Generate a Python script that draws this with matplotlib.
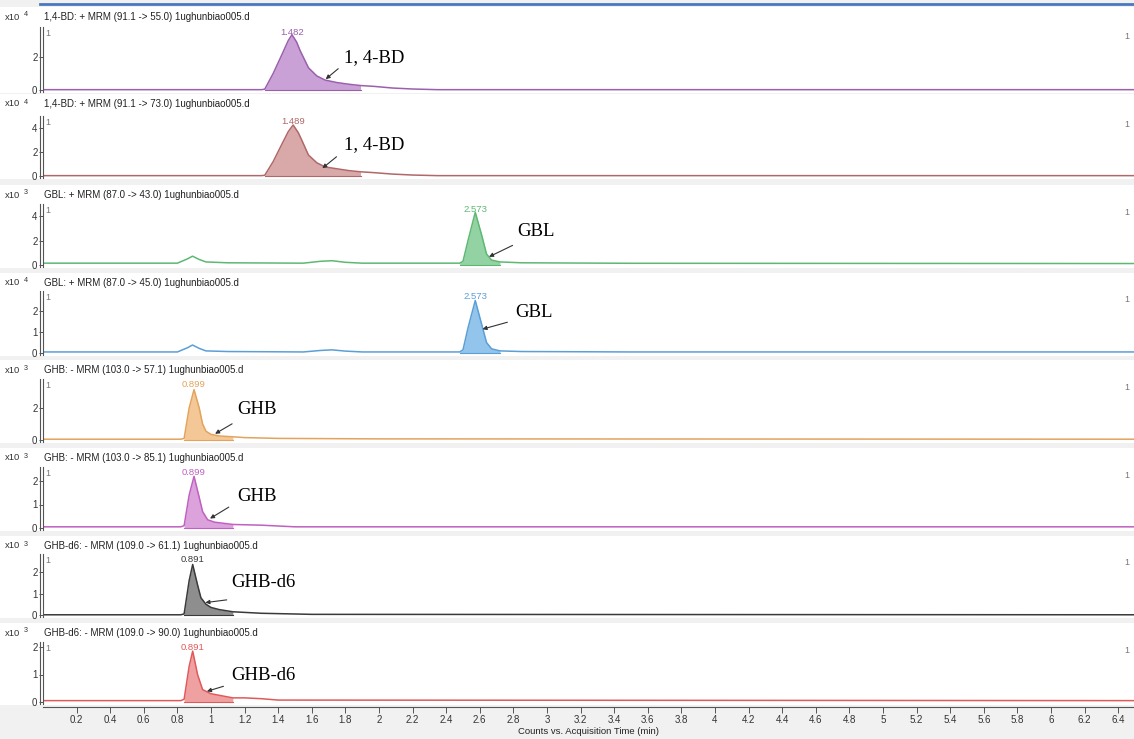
import matplotlib
matplotlib.use('Agg')
import matplotlib.pyplot as plt
import numpy as np

# ---- data (time in min, intensity in panel units) ----
titles = [
    '1,4-BD: + MRM (91.1 -> 55.0) 1ughunbiao005.d',
    '1,4-BD: + MRM (91.1 -> 73.0) 1ughunbiao005.d',
    'GBL: + MRM (87.0 -> 43.0) 1ughunbiao005.d',
    'GBL: + MRM (87.0 -> 45.0) 1ughunbiao005.d',
    'GHB: - MRM (103.0 -> 57.1) 1ughunbiao005.d',
    'GHB: - MRM (103.0 -> 85.1) 1ughunbiao005.d',
    'GHB-d6: - MRM (109.0 -> 61.1) 1ughunbiao005.d',
    'GHB-d6: - MRM (109.0 -> 90.0) 1ughunbiao005.d',
]
exponents = ['4', '4', '3', '4', '3', '3', '3', '3']
peak_rt = ['1.482', '1.489', '2.573', '2.573', '0.899', '0.899', '0.891', '0.891']
compounds = ['1, 4-BD', '1, 4-BD', 'GBL', 'GBL', 'GHB', 'GHB', 'GHB-d6', 'GHB-d6']

t_bd1 = [0, 1.30, 1.32, 1.37, 1.42, 1.46, 1.482, 1.51, 1.53, 1.58, 1.63, 1.68, 1.75, 1.82, 1.89, 1.97, 2.08, 2.2, 2.35, 6.5]
y_bd1 = [0.02, 0.02, 0.05, 1.0, 2.1, 3.0, 3.35, 2.9, 2.4, 1.35, 0.85, 0.6, 0.45, 0.35, 0.27, 0.22, 0.12, 0.06, 0.02, 0.02]
t_bd2 = [0, 1.30, 1.32, 1.37, 1.42, 1.46, 1.489, 1.52, 1.54, 1.58, 1.63, 1.68, 1.75, 1.82, 1.89, 1.97, 2.08, 2.2, 2.35, 6.5]
y_bd2 = [0.03, 0.03, 0.06, 1.2, 2.6, 3.7, 4.25, 3.6, 3.0, 1.75, 1.1, 0.75, 0.6, 0.45, 0.35, 0.28, 0.16, 0.08, 0.03, 0.03]
t_gbl1 = [0, 0.80, 0.86, 0.89, 0.93, 0.97, 1.10, 1.55, 1.65, 1.72, 1.80, 1.90, 2.48, 2.50, 2.53, 2.573, 2.61, 2.64, 2.67, 2.72, 2.85, 3.5, 6.5]
y_gbl1 = [0.15, 0.15, 0.5, 0.72, 0.45, 0.25, 0.18, 0.15, 0.3, 0.35, 0.22, 0.15, 0.15, 0.3, 2.0, 4.3, 2.5, 0.9, 0.4, 0.25, 0.18, 0.14, 0.12]
t_gbl2 = [0, 0.80, 0.86, 0.89, 0.93, 0.97, 1.10, 1.55, 1.65, 1.72, 1.80, 1.90, 2.48, 2.50, 2.53, 2.573, 2.61, 2.64, 2.67, 2.72, 2.85, 3.5, 6.5]
y_gbl2 = [0.05, 0.05, 0.25, 0.38, 0.22, 0.1, 0.07, 0.05, 0.12, 0.15, 0.09, 0.05, 0.05, 0.15, 1.2, 2.5, 1.4, 0.5, 0.2, 0.1, 0.07, 0.05, 0.05]
t_ghb1 = [0, 0.82, 0.84, 0.87, 0.899, 0.93, 0.95, 0.97, 1.00, 1.05, 1.13, 1.2, 1.4, 2.0, 6.5]
y_ghb1 = [0.05, 0.05, 0.1, 2.0, 3.15, 2.0, 1.0, 0.55, 0.35, 0.25, 0.2, 0.15, 0.1, 0.07, 0.05]
t_ghb2 = [0, 0.82, 0.84, 0.87, 0.899, 0.93, 0.95, 0.98, 1.02, 1.13, 1.3, 1.5, 6.5]
y_ghb2 = [0.05, 0.05, 0.1, 1.4, 2.2, 1.3, 0.7, 0.35, 0.25, 0.15, 0.12, 0.05, 0.05]
t_d61 = [0, 0.82, 0.84, 0.87, 0.891, 0.92, 0.94, 0.97, 1.00, 1.05, 1.13, 1.3, 1.6, 6.5]
y_d61 = [0.01, 0.01, 0.05, 1.6, 2.35, 1.4, 0.8, 0.5, 0.35, 0.25, 0.15, 0.08, 0.03, 0.01]
t_d62 = [0, 0.82, 0.84, 0.87, 0.891, 0.92, 0.95, 1.00, 1.13, 1.2, 1.3, 1.4, 6.5]
y_d62 = [0.05, 0.05, 0.1, 1.3, 1.85, 1.0, 0.45, 0.3, 0.15, 0.15, 0.12, 0.07, 0.05]

traces_t = [t_bd1, t_bd2, t_gbl1, t_gbl2, t_ghb1, t_ghb2, t_d61, t_d62]
traces_y = [y_bd1, y_bd2, y_gbl1, y_gbl2, y_ghb1, y_ghb2, y_d61, y_d62]
fill_range = [(1.32, 1.89), (1.32, 1.89), (2.48, 2.72), (2.48, 2.72),
              (0.84, 1.13), (0.84, 1.13), (0.84, 1.13), (0.84, 1.13)]
y_ticks = [[0, 2], [0, 2, 4], [0, 2, 4], [0, 1, 2], [0, 2], [0, 1, 2], [0, 1, 2], [0, 1, 2]]

# arrow head, arrow tail, text position (data units)
arrow_head = [(1.67, 0.55), (1.65, 0.5), (2.64, 0.57), (2.60, 1.1), (1.01, 0.3), (0.98, 0.34), (0.95, 0.56), (0.96, 0.36)]
arrow_tail = [(1.77, 1.4), (1.76, 1.75), (2.81, 1.7), (2.78, 1.5), (1.14, 1.1), (1.12, 0.95), (1.11, 0.72), (1.09, 0.6)]
text_pos = [(1.79, 1.94), (1.79, 2.6), (2.82, 2.7), (2.81, 1.95), (1.155, 1.9), (1.155, 1.32), (1.12, 1.5), (1.12, 0.98)]

# ---- styling / layout (pixels) ----
line_colors = ['#9b5fae', '#b06868', '#5db873', '#5b9fd6', '#e3a35c', '#c060c0', '#3a3a3a', '#e05a5a']
fill_colors = ['#c9a1d6', '#d9a9a9', '#93d3a3', '#93c5ec', '#f3c796', '#dba2dc', '#8e8e8e', '#efa0a0']
panel_top = [27, 116, 204, 291, 379, 467, 554, 642]
panel_zero = [90, 176, 265, 353, 440, 528, 615, 702]
panel_unit = [16.5, 12, 12.25, 21, 16, 23.5, 21.5, 27.5]
title_y = [17, 104, 195, 283, 370, 458, 546, 633]

W, H = 1134, 739
x0_px = 43
t_max = (W - x0_px) / 168.0

fig = plt.figure(figsize=(W / 100, H / 100), dpi=100, facecolor='#f1f1f1')
plt.rcParams['font.family'] = ['Liberation Sans', 'DejaVu Sans']

# white panel backgrounds and top blue line
for i in range(8):
    y_lo = 1 - (panel_zero[i] + 3) / H
    y_hi = 1 - (title_y[i] - 10) / H
    fig.patches.append(plt.Rectangle((0, y_lo), 1, y_hi - y_lo, transform=fig.transFigure,
                                     facecolor='white', edgecolor='none', zorder=-5))
fig.add_artist(plt.Line2D([40 / W, 1], [1 - 4 / H, 1 - 4 / H], color='#4a78c0', lw=2))

axes = []
for i in range(8):
    bottom_px = panel_zero[i] + 2
    ax = fig.add_axes([x0_px / W, 1 - bottom_px / H, 1 - x0_px / W, (bottom_px - panel_top[i]) / H])
    ax.set_facecolor('none')
    ax.set_xlim(0, t_max)
    ax.set_ylim(-2 / panel_unit[i], (panel_zero[i] - panel_top[i]) / panel_unit[i])
    t = np.array(traces_t[i])
    y = np.array(traces_y[i])
    fs, fe = fill_range[i]
    mask = (t >= fs) & (t <= fe)
    ax.fill_between(t[mask], 0, y[mask], color=fill_colors[i], lw=0)
    ax.plot(t, y, color=line_colors[i], lw=1.1)
    ax.plot([fs, fe], [0, 0], color=line_colors[i], lw=0.8)

    for s in ['top', 'right', 'bottom']:
        ax.spines[s].set_visible(False)
    ax.spines['left'].set_color('#555555')
    ax.spines['left'].set_linewidth(0.8)
    ax.axvline(-3 * t_max / (W - x0_px), color='#555555', lw=0.8, clip_on=False)
    ax.set_yticks(y_ticks[i])
    ax.set_yticklabels([str(v) for v in y_ticks[i]], fontsize=7, color='#333333')
    ax.tick_params(axis='y', length=3, width=0.7, color='#555555', pad=1)
    ax.set_xticks([])

    # header texts
    fig.text(5 / W, 1 - title_y[i] / H, 'x10', fontsize=6.8, color='#333333', va='center')
    fig.text(24 / W, 1 - (title_y[i] - 2) / H, exponents[i], fontsize=5.2, color='#333333', va='center')
    fig.text(44 / W, 1 - title_y[i] / H, titles[i], fontsize=7, color='#222222', va='center')
    ax.text(0.002, 0.97, '1', transform=ax.transAxes, fontsize=6.5, color='#777777', va='top')
    ax.text(0.996, 0.93, '1', transform=ax.transAxes, fontsize=6.5, color='#777777', va='top', ha='right')
    ax.text(float(peak_rt[i]), 0.985, peak_rt[i], transform=ax.get_xaxis_transform(),
            fontsize=6.8, color=line_colors[i], ha='center', va='top')

    # compound annotation
    ax.annotate('', xy=arrow_head[i], xytext=arrow_tail[i],
                arrowprops=dict(arrowstyle='-|>', color='#333333', lw=0.8, mutation_scale=6))
    ax.text(text_pos[i][0], text_pos[i][1], compounds[i], fontsize=13.5,
            family=['Liberation Serif', 'DejaVu Serif'], va='center', ha='left', color='black')
    axes.append(ax)

# x axis on the bottom panel
ax = axes[-1]
ax.spines['bottom'].set_visible(True)
ax.spines['bottom'].set_color('#555555')
ax.spines['bottom'].set_position(('outward', 2))
xt = [round(0.2 * k, 1) for k in range(1, 33)]
ax.set_xticks(xt)
ax.set_xticklabels(['%g' % v for v in xt], fontsize=7, color='#333333')
ax.tick_params(axis='x', length=4, width=0.7, color='#555555', pad=2)
ax.set_xlabel('Counts vs. Acquisition Time (min)', fontsize=6.8, color='#222222', labelpad=1)

fig.savefig('out.png', dpi=100, facecolor=fig.get_facecolor())
